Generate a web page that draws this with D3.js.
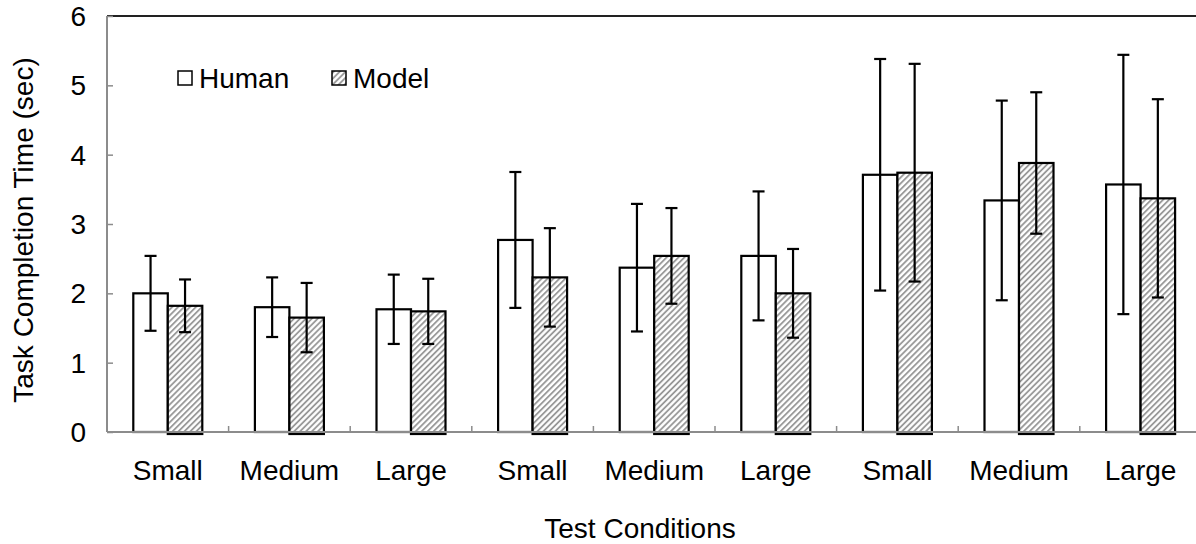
<!DOCTYPE html>
<html>
<head>
<meta charset="utf-8">
<script src="https://cdn.jsdelivr.net/npm/d3@7"></script>
<style>
  html, body { margin: 0; padding: 0; background: #fff; }
  svg { display: block; font-family: "Liberation Sans", Arial, sans-serif; }
</style>
</head>
<body>
<svg id="chart" width="1196" height="544"></svg>
<script>
// Test conditions (three groups of Small / Medium / Large)
const categories = ["Small", "Medium", "Large", "Small", "Medium", "Large", "Small", "Medium", "Large"];
const seriesNames = ["Human", "Model"];
// Mean task completion time (sec)
const humanMean = [2.00, 1.80, 1.77, 2.77, 2.37, 2.54, 3.71, 3.34, 3.57];
const modelMean = [1.82, 1.65, 1.74, 2.23, 2.54, 2.00, 3.74, 3.88, 3.37];
// Standard deviation shown as error bars
const humanSD = [0.54, 0.43, 0.50, 0.98, 0.92, 0.93, 1.67, 1.44, 1.87];
const modelSD = [0.38, 0.50, 0.47, 0.71, 0.69, 0.64, 1.57, 1.02, 1.43];
const yTicks = [0, 1, 2, 3, 4, 5, 6];

const svg = d3.select("#chart");
const plotLeft = 107, plotTop = 16, plotBottom = 432;
const step = 121.6;
const plotRight = plotLeft + step * categories.length;
const fontSize = 28;

const defs = svg.append("defs");
const pat = defs.append("pattern")
  .attr("id", "hatch")
  .attr("patternUnits", "userSpaceOnUse")
  .attr("width", 4.2).attr("height", 4.2)
  .attr("patternTransform", "rotate(45)");
pat.append("rect").attr("width", 4.2).attr("height", 4.2).attr("fill", "#fff");
pat.append("line").attr("x1", 1).attr("x2", 1).attr("y1", 0).attr("y2", 4.2)
  .attr("stroke", "#909090").attr("stroke-width", 1.7);

const x = d3.scaleBand()
  .domain(d3.range(categories.length))
  .range([plotLeft, plotRight])
  .paddingInner(0.4326)
  .paddingOuter(0.2163);
const xs = d3.scaleBand().domain(seriesNames).range([0, x.bandwidth()]);
const y = d3.scaleLinear().domain([0, 6]).range([plotBottom, plotTop]);

const rows = categories.map((c, i) => ({
  i,
  values: [
    { s: "Human", v: humanMean[i], e: humanSD[i] },
    { s: "Model", v: modelMean[i], e: modelSD[i] }
  ]
}));

// top frame line
svg.append("line")
  .attr("x1", plotLeft).attr("x2", plotRight)
  .attr("y1", plotTop).attr("y2", plotTop)
  .attr("stroke", "#222").attr("stroke-width", 2);

const groups = svg.append("g").selectAll("g")
  .data(rows).join("g")
  .attr("transform", d => `translate(${x(d.i)},0)`);

groups.selectAll("rect")
  .data(d => d.values).join("rect")
  .attr("x", d => xs(d.s))
  .attr("width", xs.bandwidth())
  .attr("y", d => y(d.v))
  .attr("height", d => y(0) - y(d.v) + (d.s === "Model" ? 2 : 0))
  .attr("fill", d => d.s === "Model" ? "url(#hatch)" : "#fff")
  .attr("stroke", "#000")
  .attr("stroke-width", 2.2);

// x axis line with upward ticks at category boundaries
const xAxis = svg.append("g");
xAxis.append("line")
  .attr("x1", plotLeft).attr("x2", plotRight)
  .attr("y1", plotBottom).attr("y2", plotBottom)
  .attr("stroke", "#8c8c8c").attr("stroke-width", 2);
xAxis.selectAll("line.tick")
  .data(d3.range(1, categories.length)).join("line")
  .attr("class", "tick")
  .attr("x1", i => x(i) - x.step() * x.paddingInner() / 2)
  .attr("x2", i => x(i) - x.step() * x.paddingInner() / 2)
  .attr("y1", plotBottom).attr("y2", plotBottom - 6)
  .attr("stroke", "#8c8c8c").attr("stroke-width", 1.5);
xAxis.selectAll("text")
  .data(categories).join("text")
  .attr("x", (d, i) => x(i) + x.bandwidth() / 2)
  .attr("y", 480)
  .attr("text-anchor", "middle")
  .attr("font-size", fontSize)
  .attr("fill", "#000")
  .text(d => d);

// error bars
const capW = 12;
const eb = groups.selectAll("g.err")
  .data(d => d.values).join("g")
  .attr("class", "err")
  .attr("stroke", "#000").attr("stroke-width", 2.2);
eb.append("line")
  .attr("x1", d => xs(d.s) + xs.bandwidth() / 2)
  .attr("x2", d => xs(d.s) + xs.bandwidth() / 2)
  .attr("y1", d => y(d.v + d.e)).attr("y2", d => y(d.v - d.e));
eb.append("line")
  .attr("x1", d => xs(d.s) + xs.bandwidth() / 2 - capW / 2)
  .attr("x2", d => xs(d.s) + xs.bandwidth() / 2 + capW / 2)
  .attr("y1", d => y(d.v + d.e)).attr("y2", d => y(d.v + d.e));
eb.append("line")
  .attr("x1", d => xs(d.s) + xs.bandwidth() / 2 - capW / 2)
  .attr("x2", d => xs(d.s) + xs.bandwidth() / 2 + capW / 2)
  .attr("y1", d => y(d.v - d.e)).attr("y2", d => y(d.v - d.e));

// y axis
const yAxis = svg.append("g").attr("transform", `translate(${plotLeft},0)`)
  .call(d3.axisRight(y).tickValues(yTicks).tickSize(6).tickFormat(""));
yAxis.select(".domain").attr("stroke", "#8c8c8c").attr("stroke-width", 2)
  .attr("d", `M0,${plotTop}V${plotBottom}`);
yAxis.selectAll(".tick line").attr("stroke", "#8c8c8c").attr("stroke-width", 1.5);
svg.append("g").selectAll("text")
  .data(yTicks).join("text")
  .attr("x", 86)
  .attr("y", d => y(d) + 10)
  .attr("text-anchor", "end")
  .attr("font-size", fontSize)
  .attr("fill", "#000")
  .text(d => d);

// axis titles
svg.append("text")
  .attr("transform", `translate(33,230) rotate(-90)`)
  .attr("text-anchor", "middle")
  .attr("font-size", fontSize)
  .attr("fill", "#000")
  .text("Task Completion Time (sec)");
svg.append("text")
  .attr("x", 640).attr("y", 538)
  .attr("text-anchor", "middle")
  .attr("font-size", fontSize)
  .attr("fill", "#000")
  .text("Test Conditions");

// legend
const legend = svg.append("g").attr("transform", "translate(178,78)");
const items = legend.selectAll("g").data(seriesNames).join("g")
  .attr("transform", (d, i) => `translate(${i * 154},0)`);
items.append("rect")
  .attr("x", 0).attr("y", -7).attr("width", 14).attr("height", 14)
  .attr("fill", d => d === "Model" ? "url(#hatch)" : "#fff")
  .attr("stroke", "#000").attr("stroke-width", 1.5);
items.append("text")
  .attr("x", 21).attr("y", 10)
  .attr("font-size", fontSize)
  .attr("fill", "#000")
  .text(d => d);
</script>
</body>
</html>
